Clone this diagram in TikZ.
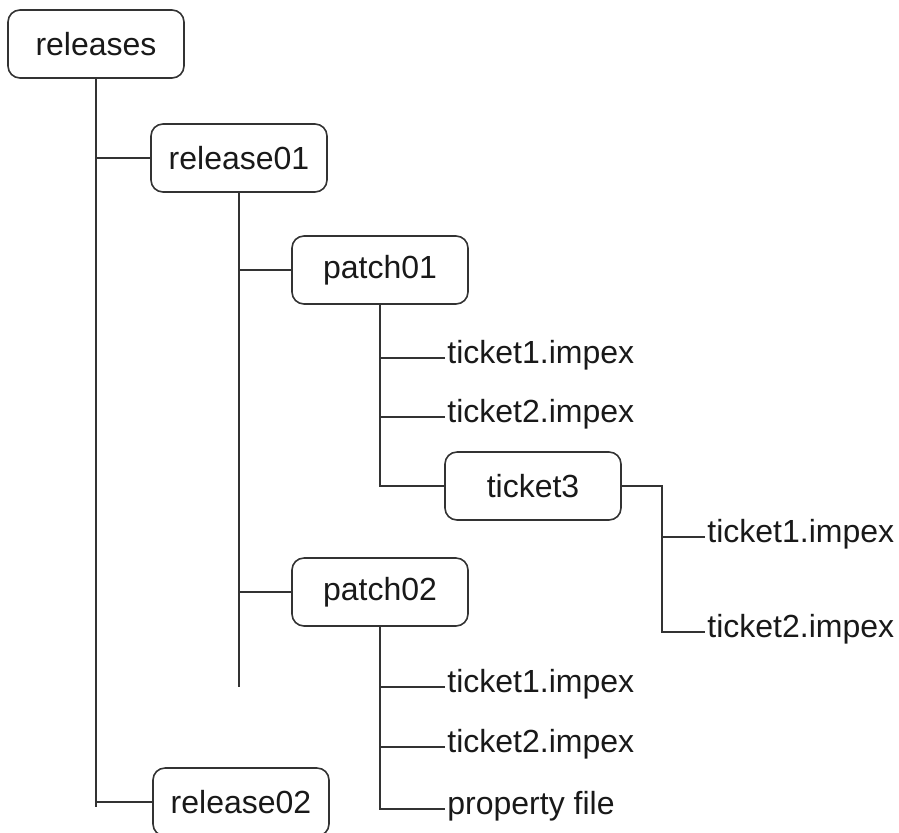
\documentclass[tikz,border=0pt]{standalone}
\usepackage{fontspec}
\setmainfont{Liberation Sans}
\begin{document}
\begin{tikzpicture}[x = .5pt, y = -.5pt,
		folder/.style = {draw = black!80, line width = .8pt, rounded corners = 6pt, minimum width = 88pt, minimum height = 34pt},
		leaf/.style = {anchor = west, inner sep = 1pt, text height = .75em, text depth = .25em},
		every node/.style = {font = \fontsize{16}{19}\selectfont, text = black!90},
		branch/.style = {line width = .8pt, draw = black!80}]
		\useasboundingbox (0,0) rectangle (899,832);
		
		\node (releases) at (96,44) [folder] {releases};
		\node (release01) at (239,158) [folder] {release01};
		\node (release02) at (241,802) [folder] {release02};
		\coordinate (releasesEnd) at (96,807);
		\coordinate (release01End) at (239,687);
		
		\draw [branch] (releases) -- (releasesEnd);
		\draw [branch] (releases) |- (release01);
		\draw [branch] (releases) |- (release02);
		
		\node (patch01) at (380,270) [folder] {patch01};
		\node (patch02) at (380,592) [folder] {patch02};
		
		\draw [branch] (release01) -- (release01End);
		\draw [branch] (release01) |- (patch01);
		\draw [branch] (release01) |- (patch02);
		
		% patch01
		\node (p1t1) at (445,358) [leaf] {ticket1.impex};
		\node (p1t2) at (445,417) [leaf] {ticket2.impex};
		\node (ticket3) at (533,486) [folder] {ticket3};
		
		\draw [branch] (patch01) |- (p1t1);
		\draw [branch] (patch01) |- (p1t2);
		\draw [branch] (patch01) |- (ticket3);
		
		% ticket3
		\coordinate (t3fork) at (662,486);
		\node (t3t1) at (705,537) [leaf] {ticket1.impex};
		\node (t3t2) at (705,632) [leaf] {ticket2.impex};
		
		\draw [branch] (ticket3) -- (t3fork) |- (t3t1);
		\draw [branch] (t3fork) |- (t3t2);
		
		% patch02
		\node (p2t1) at (445,687) [leaf] {ticket1.impex};
		\node (p2t2) at (445,747) [leaf] {ticket2.impex};
		\node (p2prop) at (445,809) [leaf] {property file};
		
		\draw [branch] (patch02) |- (p2t1);
		\draw [branch] (patch02) |- (p2t2);
		\draw [branch] (patch02) |- (p2prop);
		\end{tikzpicture}
\end{document}
